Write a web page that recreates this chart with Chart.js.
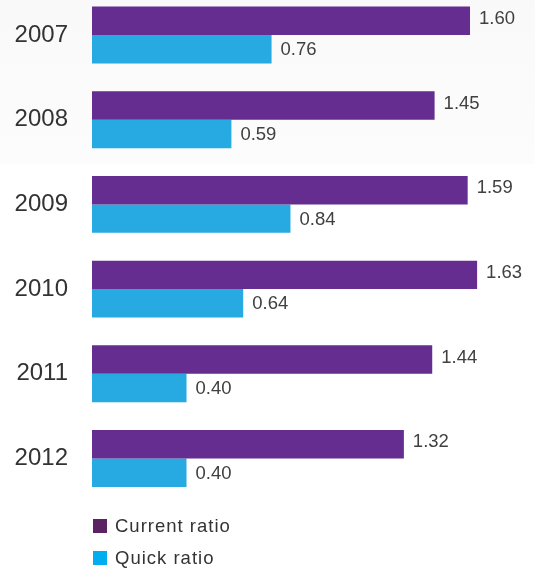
<!DOCTYPE html>
<html>
<head>
<meta charset="utf-8">
<script src="https://cdn.jsdelivr.net/npm/chart.js@4"></script>
<style>
  html, body { margin: 0; padding: 0; background: #ffffff; }
  #wrap { position: relative; width: 535px; height: 569px; }
  #legend { position: absolute; left: 93px; top: 510px; font-family: "Liberation Sans", Arial, sans-serif;
            font-size: 18.5px; letter-spacing: 1px; color: #333; }
  #legend .item { display: flex; align-items: center; height: 32px; }
  #legend .sw { width: 14px; height: 14px; margin-right: 8px; flex: none; }
</style>
</head>
<body>
<div id="wrap">
  <canvas id="c" width="535" height="569"></canvas>
  <div id="legend"></div>
</div>
<script>
// Liquidity ratios by year
const years = ['2007', '2008', '2009', '2010', '2011', '2012'];
const currentRatio = [1.60, 1.45, 1.59, 1.63, 1.44, 1.32];
const quickRatio = [0.76, 0.59, 0.84, 0.64, 0.40, 0.40];
const seriesNames = ['Current ratio', 'Quick ratio'];

const barColors = ['#642d8f', '#27aae1'];
const keyColors = ['#5c2363', '#00aeef'];

// faint grey band behind the top of the chart
const backdrop = {
  id: 'backdrop',
  beforeDraw(chart) {
    const ctx = chart.ctx;
    ctx.save();
    ctx.fillStyle = '#ffffff';
    ctx.fillRect(0, 0, chart.width, chart.height);
    const g = ctx.createLinearGradient(0, 0, 0, 164);
    g.addColorStop(0, '#f9f9f9');
    g.addColorStop(1, '#fcfcfc');
    ctx.fillStyle = g;
    ctx.fillRect(0, 0, chart.width, 164);
    ctx.restore();
  }
};

// value printed just past the end of each bar
const valueLabels = {
  id: 'valueLabels',
  afterDatasetsDraw(chart) {
    const ctx = chart.ctx;
    ctx.save();
    ctx.font = '18.5px "Liberation Sans", Arial, sans-serif';
    ctx.fillStyle = '#404040';
    ctx.textAlign = 'left';
    ctx.textBaseline = 'middle';
    chart.data.datasets.forEach((ds, di) => {
      const meta = chart.getDatasetMeta(di);
      meta.data.forEach((bar, i) => {
        ctx.fillText(ds.data[i].toFixed(2), bar.x + 9, bar.y + (di === 0 ? -2 : 1));
      });
    });
    ctx.restore();
  }
};

const chart = new Chart(document.getElementById('c'), {
  type: 'bar',
  data: {
    labels: years,
    datasets: [
      { label: seriesNames[0], data: currentRatio, backgroundColor: barColors[0] },
      { label: seriesNames[1], data: quickRatio, backgroundColor: barColors[1] }
    ]
  },
  options: {
    indexAxis: 'y',
    responsive: false,
    devicePixelRatio: 1,
    animation: false,
    datasets: {
      bar: { categoryPercentage: 0.672, barPercentage: 1.0, borderWidth: 0, clip: false }
    },
    layout: { padding: { top: 35, bottom: 110.5, left: 14, right: 0 } },
    plugins: { legend: { display: false }, tooltip: { enabled: false } },
    scales: {
      x: { type: 'linear', min: 0, max: 1.875, display: false },
      y: {
        type: 'category',
        offset: false,
        grid: { display: false, drawTicks: false },
        border: { display: false },
        ticks: {
          padding: 24,
          color: '#333333',
          font: { family: '"Liberation Sans", Arial, sans-serif', size: 24 }
        },
        afterFit(scale) {
          scale.width = 78;
          scale.paddingTop = 0;
          scale.paddingBottom = 0;
        }
      }
    }
  },
  plugins: [backdrop, valueLabels]
});

// key below the bars
const legend = document.getElementById('legend');
chart.data.datasets.forEach((ds, i) => {
  const item = document.createElement('div');
  item.className = 'item';
  const sw = document.createElement('span');
  sw.className = 'sw';
  sw.style.background = keyColors[i];
  const txt = document.createElement('span');
  txt.textContent = ds.label;
  item.appendChild(sw);
  item.appendChild(txt);
  legend.appendChild(item);
});
</script>
</body>
</html>
